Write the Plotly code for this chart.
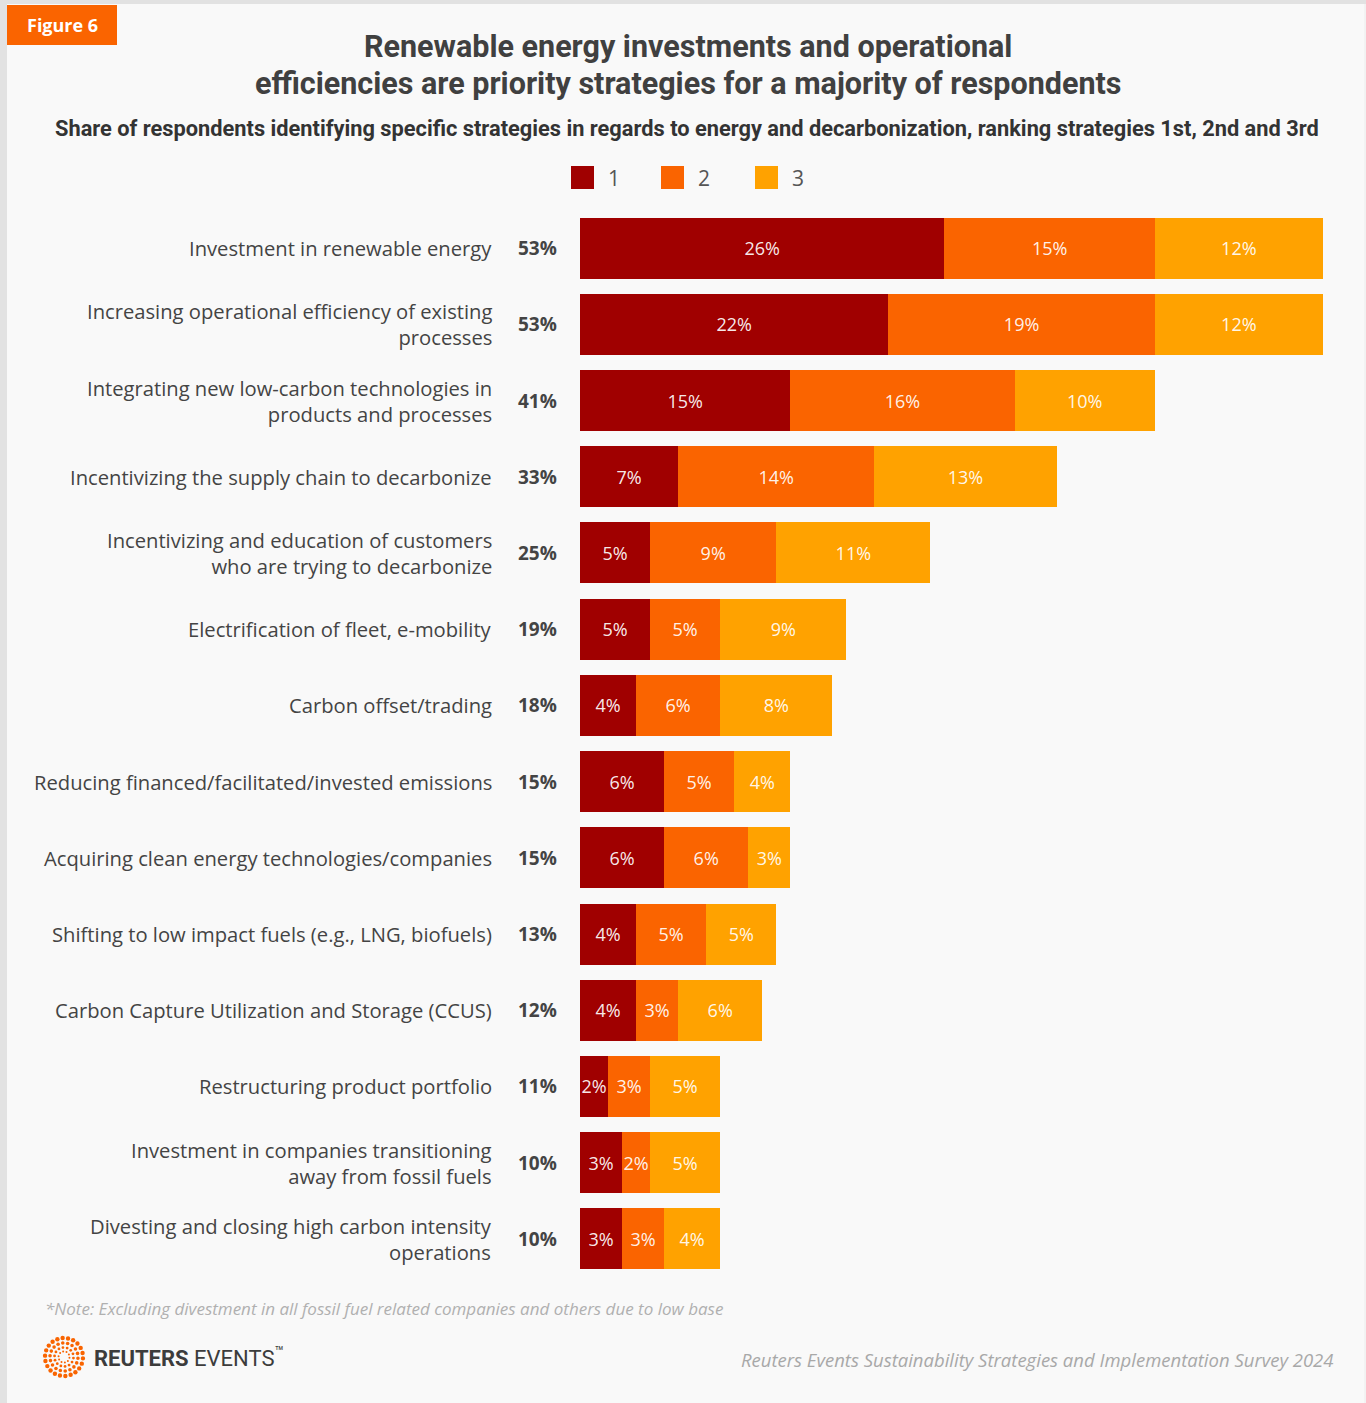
import math
import plotly.graph_objects as go

# ---- data -------------------------------------------------------------
strategies = [
    "Investment in renewable energy",
    "Increasing operational efficiency of existing<br>processes",
    "Integrating new low-carbon technologies in<br>products and processes",
    "Incentivizing the supply chain to decarbonize",
    "Incentivizing and education of customers<br>who are trying to decarbonize",
    "Electrification of fleet, e-mobility",
    "Carbon offset/trading",
    "Reducing financed/facilitated/invested emissions",
    "Acquiring clean energy technologies/companies",
    "Shifting to low impact fuels (e.g., LNG, biofuels)",
    "Carbon Capture Utilization and Storage (CCUS)",
    "Restructuring product portfolio",
    "Investment in companies transitioning<br>away from fossil fuels",
    "Divesting and closing high carbon intensity<br>operations",
]
rank1 = [26, 22, 15, 7, 5, 5, 4, 6, 6, 4, 4, 2, 3, 3]
rank2 = [15, 19, 16, 14, 9, 5, 6, 5, 6, 5, 3, 3, 2, 3]
rank3 = [12, 12, 10, 13, 11, 9, 8, 4, 3, 5, 6, 5, 5, 4]
totals = [53, 53, 41, 33, 25, 19, 18, 15, 15, 13, 12, 11, 10, 10]
rank_names = ["1", "2", "3"]
rank_colors = ["#a00000", "#fa6400", "#ffa200"]
title_lines = [
    "Renewable energy investments and operational",
    "efficiencies are priority strategies for a majority of respondents",
]

# ---- canvas helpers (margins are zero, so paper == pixels) -------------
W, H = 1366, 1403
def px(x):
    return x / W
def py(y):
    return 1 - y / H

FONT = "Open Sans"
TEXT_DARK = "#444444"

fig = go.Figure()

for name, vals, col in zip(rank_names, [rank1, rank2, rank3], rank_colors):
    fig.add_trace(go.Bar(
        y=strategies, x=vals, name=name, orientation="h",
        marker=dict(color=col, line=dict(width=0)),
        text=[f"{v}%" for v in vals], textposition="inside",
        insidetextanchor="middle", textangle=0,
        textfont=dict(family=FONT, size=18, color="rgba(255,255,255,0.93)"),
        width=0.8, showlegend=False, hoverinfo="skip",
    ))

fig.update_layout(
    width=W, height=H,
    margin=dict(l=0, r=0, t=0, b=0),
    barmode="stack",
    bargap=0.2,
    paper_bgcolor="#e2e2e2",
    plot_bgcolor="rgba(0,0,0,0)",
    uniformtext=dict(minsize=18, mode="show"),
    font=dict(family=FONT, color=TEXT_DARK),
    xaxis=dict(domain=[px(580), px(1351)], range=[0, 55], visible=False,
               fixedrange=True),
    yaxis=dict(domain=[py(1277), py(210)], autorange="reversed",
               showticklabels=False, showgrid=False, zeroline=False,
               showline=False, ticks=""),
)

shapes = []
annotations = []

# card background and its thin right edge
shapes.append(dict(type="rect", xref="paper", yref="paper", layer="below",
                   x0=px(7), x1=1, y0=0, y1=py(4),
                   fillcolor="#f9f9f9", line=dict(width=0)))
shapes.append(dict(type="line", xref="paper", yref="paper", layer="below",
                   x0=px(1365), x1=px(1365), y0=0, y1=py(4),
                   line=dict(color="#ececec", width=1)))

# "Figure 6" badge
shapes.append(dict(type="rect", xref="paper", yref="paper",
                   x0=px(7), x1=px(117), y0=py(45), y1=py(5),
                   fillcolor="#fa6400", line=dict(width=0)))
annotations.append(dict(text="<b>Figure 6</b>", xref="paper", yref="paper",
                        x=px(62), y=py(25), xanchor="center", yanchor="middle",
                        showarrow=False,
                        font=dict(family=FONT, size=18, color="white")))

# titles
for line, ty in zip(title_lines, [46, 84]):
    annotations.append(dict(
        text=f"<b>{line}</b>",
        xref="paper", yref="paper", x=px(688), y=py(ty), xanchor="center",
        yanchor="middle", showarrow=False,
        font=dict(family="Roboto", size=30.5, color="#404040")))
annotations.append(dict(
    text="<b>Share of respondents identifying specific strategies in regards to "
         "energy and decarbonization, ranking strategies 1st, 2nd and 3rd</b>",
    xref="paper", yref="paper", x=px(687), y=py(128), xanchor="center",
    yanchor="middle", showarrow=False,
    font=dict(family="Roboto", size=21.8, color="#333333")))

# legend
legend_x = [571, 661, 755]
for name, col, lx in zip(rank_names, rank_colors, legend_x):
    shapes.append(dict(type="rect", xref="paper", yref="paper",
                       x0=px(lx), x1=px(lx + 23), y0=py(189), y1=py(166),
                       fillcolor=col, line=dict(width=0)))
    annotations.append(dict(text=name, xref="paper", yref="paper",
                            x=px(lx + 35), y=py(178), xanchor="left",
                            yanchor="middle", showarrow=False,
                            font=dict(family=FONT, size=21, color="#555555")))

# category labels and totals
for cat, tot in zip(strategies, totals):
    annotations.append(dict(text=cat, xref="paper", yref="y", x=px(494), y=cat,
                            xanchor="right", yanchor="middle", align="right",
                            showarrow=False,
                            font=dict(family=FONT, size=20.2, color=TEXT_DARK)))
    annotations.append(dict(text=f"<b>{tot}%</b>", xref="paper", yref="y",
                            x=px(559), y=cat, xanchor="right", yanchor="middle",
                            showarrow=False,
                            font=dict(family=FONT, size=19, color=TEXT_DARK)))

# footnote and source
annotations.append(dict(
    text="<i>*Note: Excluding divestment in all fossil fuel related companies "
         "and others due to low base</i>",
    xref="paper", yref="paper", x=px(43), y=py(1308), xanchor="left",
    yanchor="middle", showarrow=False,
    font=dict(family=FONT, size=17, color="#b0b0b0")))
annotations.append(dict(
    text="<i>Reuters Events Sustainability Strategies and Implementation Survey 2024</i>",
    xref="paper", yref="paper", x=px(1336), y=py(1359), xanchor="right",
    yanchor="middle", showarrow=False,
    font=dict(family=FONT, size=18.5, color="#a8a8a8")))

# brand mark: concentric rings of dots
cx, cy = 64, 1357
rings = [(19, 22, 2.2), (14, 18, 1.8), (9.5, 14, 1.4), (5.5, 10, 1.0)]
for r, n, d in rings:
    for k in range(n):
        a = 2 * math.pi * k / n + (0.5 * math.pi / n if n % 4 else 0)
        x = cx + r * math.cos(a)
        y = cy + r * math.sin(a)
        shapes.append(dict(type="circle", xref="paper", yref="paper",
                           x0=px(x - d), x1=px(x + d), y0=py(y + d), y1=py(y - d),
                           fillcolor="#f96400", line=dict(width=0)))
annotations.append(dict(
    text="<b>REUTERS</b> EVENTS<sup>™</sup>", xref="paper", yref="paper",
    x=px(92), y=py(1357), xanchor="left", yanchor="middle", showarrow=False,
    font=dict(family="Roboto", size=22, color="#3c3c3c")))

fig.update_layout(shapes=shapes, annotations=annotations)

fig.write_html("out.html", config=dict(displayModeBar=False))
